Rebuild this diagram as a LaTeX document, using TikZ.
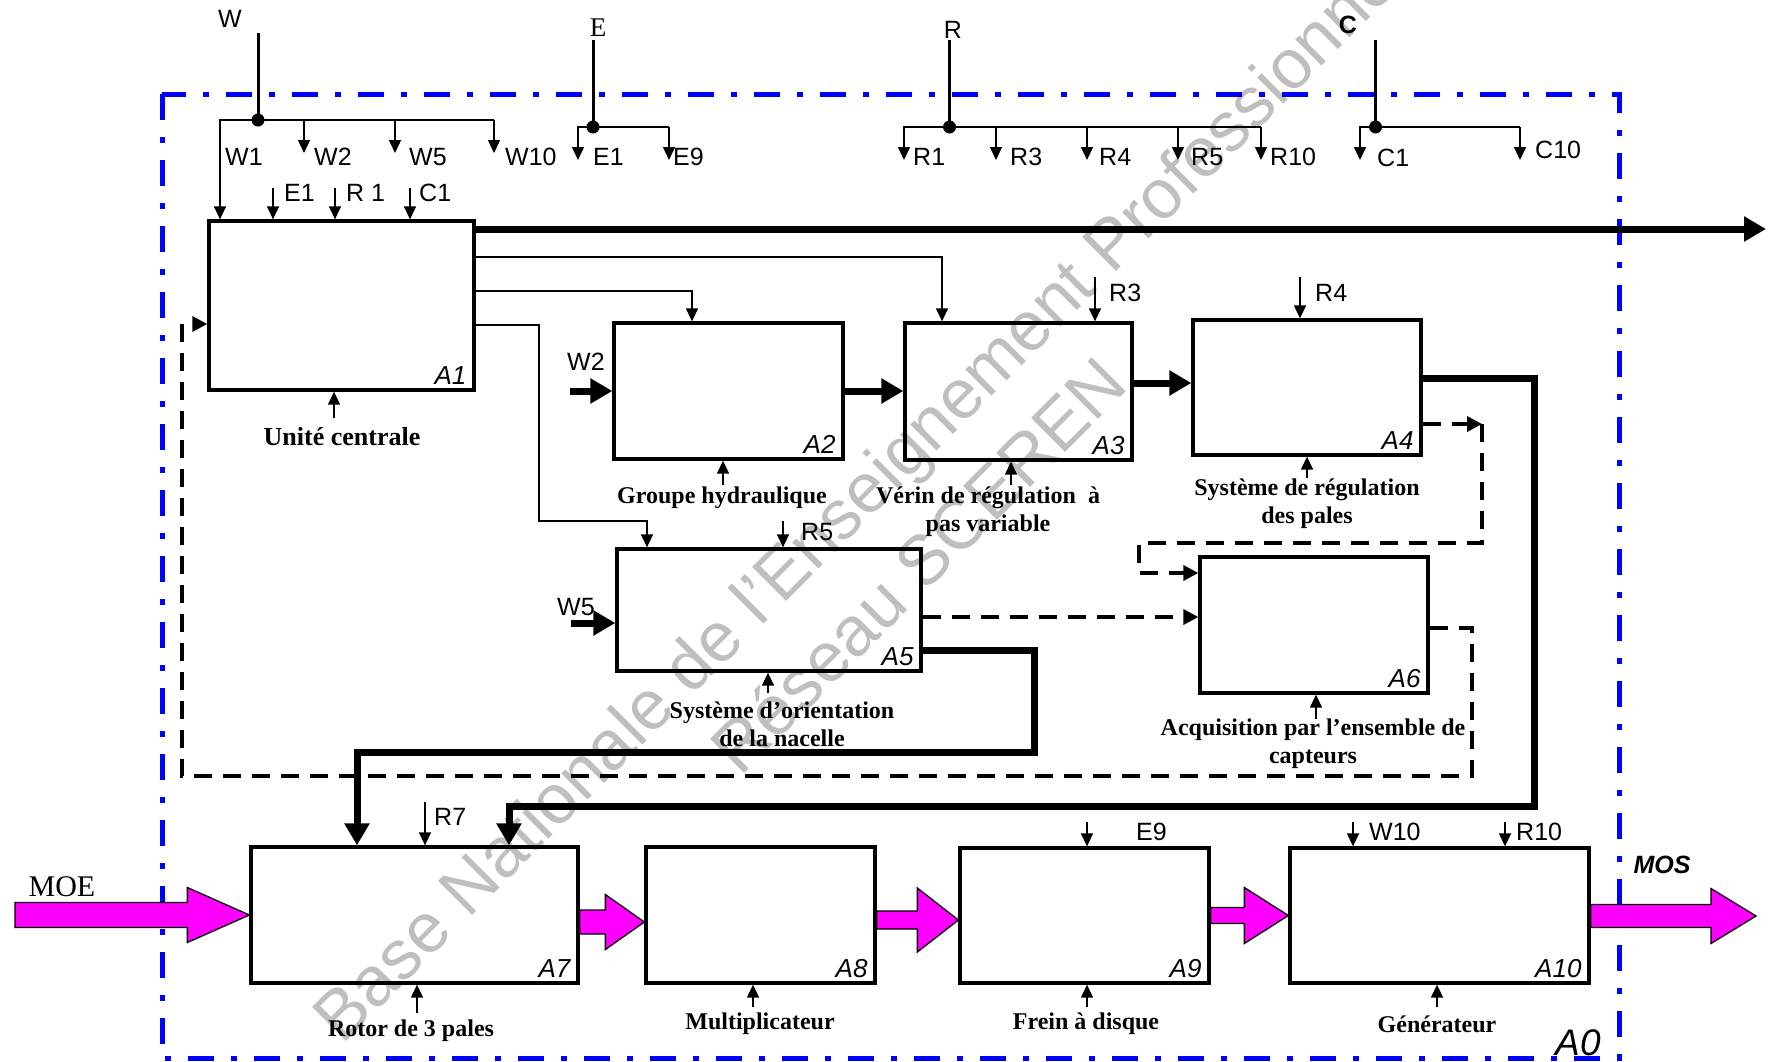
\documentclass[tikz,border=0pt]{standalone}
\usepackage{fontspec}
\setmainfont{Liberation Serif}
\setsansfont{Liberation Sans}
\usetikzlibrary{arrows.meta,calc}
\definecolor{flowmag}{RGB}{255,0,255}
\newcommand\blockarr[5]{\draw[mag] let \p1=(#1), \p2=(#2) in
  (\x1,\y2+#3pt) -- (\x2-#5pt,\y2+#3pt) -- (\x2-#5pt,\y2+#4pt) -- (\x2,\y2) --
  (\x2-#5pt,\y2-#4pt) -- (\x2-#5pt,\y2-#3pt) -- (\x1,\y2-#3pt) -- cycle;}
\begin{document}
\begin{tikzpicture}[x=1pt,y=-1pt,
  box/.style={draw,line width=3.3pt,inner sep=0pt},
  thinl/.style={line width=1.4pt},
  stem/.style={line width=3pt},
  tarr/.style={thinl,-{Triangle[length=13pt,width=12pt]}},
  tharr/.style={line width=7pt,-{Triangle[length=22pt,width=24pt]}},
  dl/.style={line width=3.4pt,dash pattern=on 18pt off 11pt},
  darr/.style={dl,-{Triangle[length=15pt,width=15pt]}},
  lab/.style={font=\fontsize{25}{25}\selectfont\sffamily,inner sep=0pt},
  labw/.style={lab,anchor=west},
  labb/.style={font=\fontsize{25}{25}\selectfont\sffamily\bfseries,inner sep=0pt},
  alab/.style={font=\fontsize{26}{26}\selectfont\sffamily\itshape,inner sep=0pt,anchor=south east},
  mlab/.style={font=\fontsize{24}{28}\selectfont\bfseries,inner sep=0pt,align=center},
  mag/.style={draw=black,line width=1.3pt,fill=flowmag},
  jdot/.style={circle,fill=black,inner sep=0pt,minimum size=13pt},
  frame/.style={draw=blue,line width=5pt,dash pattern=on 26pt off 17pt on 6pt off 17pt},
  wm/.style={font=\fontsize{70}{70}\selectfont\sffamily,text=black,text opacity=0.25,inner sep=0pt,rotate=45,anchor=base west}
]
\useasboundingbox (0,0) rectangle (1769,1061);

% frame
\draw[frame] (162,94) rectangle (1619,1058);

% boxes
\node[box,minimum width=265pt,minimum height=169pt] (A1) at (341.5,305.5) {};
\node[box,minimum width=229pt,minimum height=136pt] (A2) at (728.5,391) {};
\node[box,minimum width=227pt,minimum height=137pt] (A3) at (1018.5,391.5) {};
\node[box,minimum width=228pt,minimum height=135pt] (A4) at (1307,387.5) {};
\node[box,minimum width=304pt,minimum height=122pt] (A5) at (769,610) {};
\node[box,minimum width=228pt,minimum height=136pt] (A6) at (1314,625) {};
\node[box,minimum width=327pt,minimum height=136pt] (A7) at (414.5,915) {};
\node[box,minimum width=229pt,minimum height=136pt] (A8) at (760.5,915) {};
\node[box,minimum width=249pt,minimum height=135pt] (A9) at (1084.5,915.5) {};
\node[box,minimum width=299pt,minimum height=135pt] (A10) at (1439.5,915.5) {};

\foreach \b in {A1,A2,A3,A4,A5,A6,A7,A8,A9,A10}
  \node[alab] (l\b) at ($(\b.south east)+(-9,-7)$) {\b};

% ---- top distribution: W
\coordinate (Wtop) at (258,33);
\coordinate (Wj) at (258,120);
\coordinate (w1b) at (220,120);
\coordinate (w2e) at (304,153);
\coordinate (w5e) at (395,153);
\coordinate (w10e) at (494,153);
\node[lab] (Wlab) at (230,19) {W};
\draw[stem] (Wtop) -- (Wj);
\draw[tarr] (w10e |- Wj) -- (w1b) -- (A1.north -| w1b);
\draw[tarr] (w2e |- Wj) -- (w2e);
\draw[tarr] (w5e |- Wj) -- (w5e);
\draw[tarr] (w10e |- Wj) -- (w10e);
\node[jdot] (Wdot) at (Wj) {};
\node[labw] (tW1) at (225,157) {W1};
\node[labw] (tW2) at (314,157) {W2};
\node[labw] (tW5) at (409,157) {W5};
\node[labw] (tW10) at (505,157) {W10};

% ---- E
\coordinate (Etop) at (593,40);
\coordinate (Ej) at (593,127);
\coordinate (e1e) at (578,160);
\coordinate (e9e) at (669,160);
\node[font=\fontsize{27}{27}\selectfont,inner sep=0pt] (Elab) at (598,28) {E};
\draw[stem] (Etop) -- (Ej);
\draw[tarr] (e9e |- Ej) -- (e1e |- Ej) -- (e1e);
\draw[tarr] (e9e |- Ej) -- (e9e);
\node[jdot] (Edot) at (Ej) {};
\node[labw] (tE1) at (593,157) {E1};
\node[labw] (tE9) at (673,157) {E9};

% ---- R
\coordinate (Rtop) at (949.5,40);
\coordinate (Rj) at (949.5,127);
\coordinate (r1e) at (904,160);
\coordinate (r3e) at (996,160);
\coordinate (r4e) at (1087,160);
\coordinate (r5e) at (1178,160);
\coordinate (r10e) at (1261,160);
\node[lab] (Rlab) at (953,30) {R};
\draw[stem] (Rtop) -- (Rj);
\draw[tarr] (r10e |- Rj) -- (r1e |- Rj) -- (r1e);
\foreach \c in {r3e,r4e,r5e,r10e} \draw[tarr] (\c |- Rj) -- (\c);
\node[jdot] (Rdot) at (Rj) {};
\node[labw] (tR1) at (913,157) {R1};
\node[labw] (tR3) at (1010,157) {R3};
\node[labw] (tR4) at (1099,157) {R4};
\node[labw] (tR5) at (1191,157) {R5};
\node[labw] (tR10) at (1270,157) {R10};

% ---- C
\coordinate (Ctop) at (1375.5,40);
\coordinate (Cj) at (1375.5,127);
\coordinate (c1e) at (1360,160);
\coordinate (c10e) at (1520,160);
\node[labb] (Clab) at (1348,25) {C};
\draw[stem] (Ctop) -- (Cj);
\draw[tarr] (c10e |- Cj) -- (c1e |- Cj) -- (c1e);
\draw[tarr] (c10e |- Cj) -- (c10e);
\node[jdot] (Cdot) at (Cj) {};
\node[labw] (tC1) at (1377,158) {C1};
\node[labw] (tC10) at (1535,150) {C10};

% ---- A1 controls
\coordinate (e1a) at (273,188);
\coordinate (r1a) at (335,188);
\coordinate (c1a) at (410,188);
\foreach \c in {e1a,r1a,c1a} \draw[tarr] (\c) -- (A1.north -| \c);
\node[labw] (aE1) at (284,193) {E1};
\node[labw] (aR1) at (346,193) {R 1};
\node[labw] (aC1) at (419,193) {C1};

% ---- other controls
\coordinate (r3a) at (1095,277);
\coordinate (r4a) at (1300,277);
\coordinate (r5a) at (783,521);
\coordinate (r7a) at (425,802);
\coordinate (e9a) at (1087,822);
\coordinate (w10a) at (1353,822);
\coordinate (r10a) at (1505,822);
\draw[tarr] (r3a) -- (A3.north -| r3a);
\draw[tarr] (r4a) -- (A4.north -| r4a);
\draw[tarr] (r5a) -- (A5.north -| r5a);
\draw[tarr] (r7a) -- (A7.north -| r7a);
\draw[tarr] (e9a) -- (A9.north -| e9a);
\draw[tarr] (w10a) -- (A10.north -| w10a);
\draw[tarr] (r10a) -- (A10.north -| r10a);
\node[labw] (bR3) at (1109,293) {R3};
\node[labw] (bR4) at (1315,293) {R4};
\node[labw] (bR5) at (801,532) {R5};
\node[labw] (bR7) at (434,817) {R7};
\node[labw] (bE9) at (1136,832) {E9};
\node[labw] (bW10) at (1369,832) {W10};
\node[labw] (bR10) at (1516,832) {R10};

% ---- thin links from A1
\coordinate (k1) at (942,257);
\coordinate (k2) at (692,291);
\coordinate (k3) at (539,325);
\coordinate (k4) at (647,521);
\draw[tarr] (A1.east |- k1) -| (A3.north -| k1);
\draw[tarr] (A1.east |- k2) -| (A2.north -| k2);
\draw[tarr] (A1.east |- k3) -- (k3) |- (k4) -- (A5.north -| k4);

% ---- thick links
\coordinate (out1) at (1766,229);
\draw[tharr] (A1.east |- out1) -- (out1);
\coordinate (w2s) at (570,391);
\draw[tharr] (w2s) -- (A2.west |- w2s);
\node[labw] (iW2) at (567,362) {W2};
\coordinate (w5s) at (571,623);
\draw[tharr] (w5s) -- (A5.west |- w5s);
\node[labw] (iW5) at (557,607) {W5};
\draw[tharr] (A2.east) -- (A3.west |- A2.east);
\coordinate (a34) at (1132,383);
\draw[tharr] (A3.east |- a34) -- (A4.west |- a34);
\coordinate (p4a) at (1534,378);
\coordinate (p4b) at (509,806);
\draw[tharr] (A4.east |- p4a) -- (p4a) |- (p4b) -- (A7.north -| p4b);
\coordinate (p5a) at (1034,650);
\coordinate (p5b) at (357,752);
\draw[tharr] (A5.east |- p5a) -- (p5a) |- (p5b) -- (A7.north -| p5b);

% ---- dashed links
\coordinate (d4a) at (1482,424);
\coordinate (d4b) at (1139,543);
\coordinate (d4c) at (1139,573);
\draw[darr] (A4.east |- d4a) -- (d4a);
\draw[darr] (d4a) |- (d4b) -- (d4c) -- (A6.west |- d4c);
\coordinate (d56) at (921,617);
\draw[darr] (A5.east |- d56) -- (A6.west |- d56);
\coordinate (d6a) at (1472,628);
\coordinate (d6b) at (182,776);
\coordinate (d6c) at (182,324);
\draw[darr] (A6.east |- d6a) -- (d6a) |- (d6b) -- (d6c) -- (A1.west |- d6c);

% ---- mechanisms
\coordinate (m1) at (334,418);
\coordinate (m2) at (723,485);
\coordinate (m3) at (1011,485);
\coordinate (m4) at (1307,478);
\coordinate (m5) at (768,693);
\coordinate (m6) at (1316,719);
\coordinate (m7) at (417,1013);
\coordinate (m8) at (753,1007);
\coordinate (m9) at (1087,1007);
\coordinate (m10) at (1437,1007);
\draw[tarr] (m1) -- (A1.south -| m1);
\draw[tarr] (m2) -- (A2.south -| m2);
\draw[tarr] (m3) -- (A3.south -| m3);
\draw[tarr] (m4) -- (A4.south -| m4);
\draw[tarr] (m5) -- (A5.south -| m5);
\draw[tarr] (m6) -- (A6.south -| m6);
\draw[tarr] (m7) -- (A7.south -| m7);
\draw[tarr] (m8) -- (A8.south -| m8);
\draw[tarr] (m9) -- (A9.south -| m9);
\draw[tarr] (m10) -- (A10.south -| m10);
\node[mlab,font=\fontsize{26}{28}\selectfont\bfseries] (M1) at (342,437) {Unité centrale};
\node[mlab] (M2) at (722,498) {Groupe hydraulique};
\node[mlab] (M3) at (988,512) {Vérin de régulation\enspace à\\pas variable};
\node[mlab] (M4) at (1307,504) {Système de régulation\\des pales};
\node[mlab] (M5) at (782,724) {Système d’orientation\\de la nacelle};
\node[mlab] (M6) at (1313,744) {Acquisition par l’ensemble de\\capteurs};
\node[mlab] (M7) at (411,1031) {Rotor de 3 pales};
\node[mlab] (M8) at (760,1024) {Multiplicateur};
\node[mlab] (M9) at (1086,1024) {Frein à disque};
\node[mlab] (M10) at (1437,1024) {Générateur};

% ---- energy flow (magenta block arrows)
\coordinate (moe) at (15,915);
\coordinate (t8) at ($(A8.west)+(0,7)$);
\coordinate (t9) at ($(A9.west)+(0,4.5)$);
\coordinate (mos) at (1756,916);
\blockarr{moe}{A7.west}{12.5}{27.5}{62}
\blockarr{A7.east}{t8}{12}{27.5}{39}
\blockarr{A8.east}{t9}{9}{32}{41}
\blockarr{A9.east}{A10.west}{8}{28}{44}
\blockarr{A10.east}{mos}{11.5}{27.5}{45}
\node[font=\fontsize{30}{30}\selectfont,inner sep=0pt] (MOE) at (62,887) {MOE};
\node[font=\fontsize{25}{25}\selectfont\sffamily\bfseries\itshape,inner sep=0pt] (MOS) at (1662,865) {MOS};
\node[font=\fontsize{37}{37}\selectfont\sffamily\itshape,inner sep=0pt] (A0) at (1578,1043) {A0};

% ---- watermark
\node[wm] (wm1) at (342,1046) {Base Nationale de l'Enseignement Professionnel};
\node[wm] (wm2) at (740,778) {Réseau SCEREN};
\end{tikzpicture}
\end{document}
